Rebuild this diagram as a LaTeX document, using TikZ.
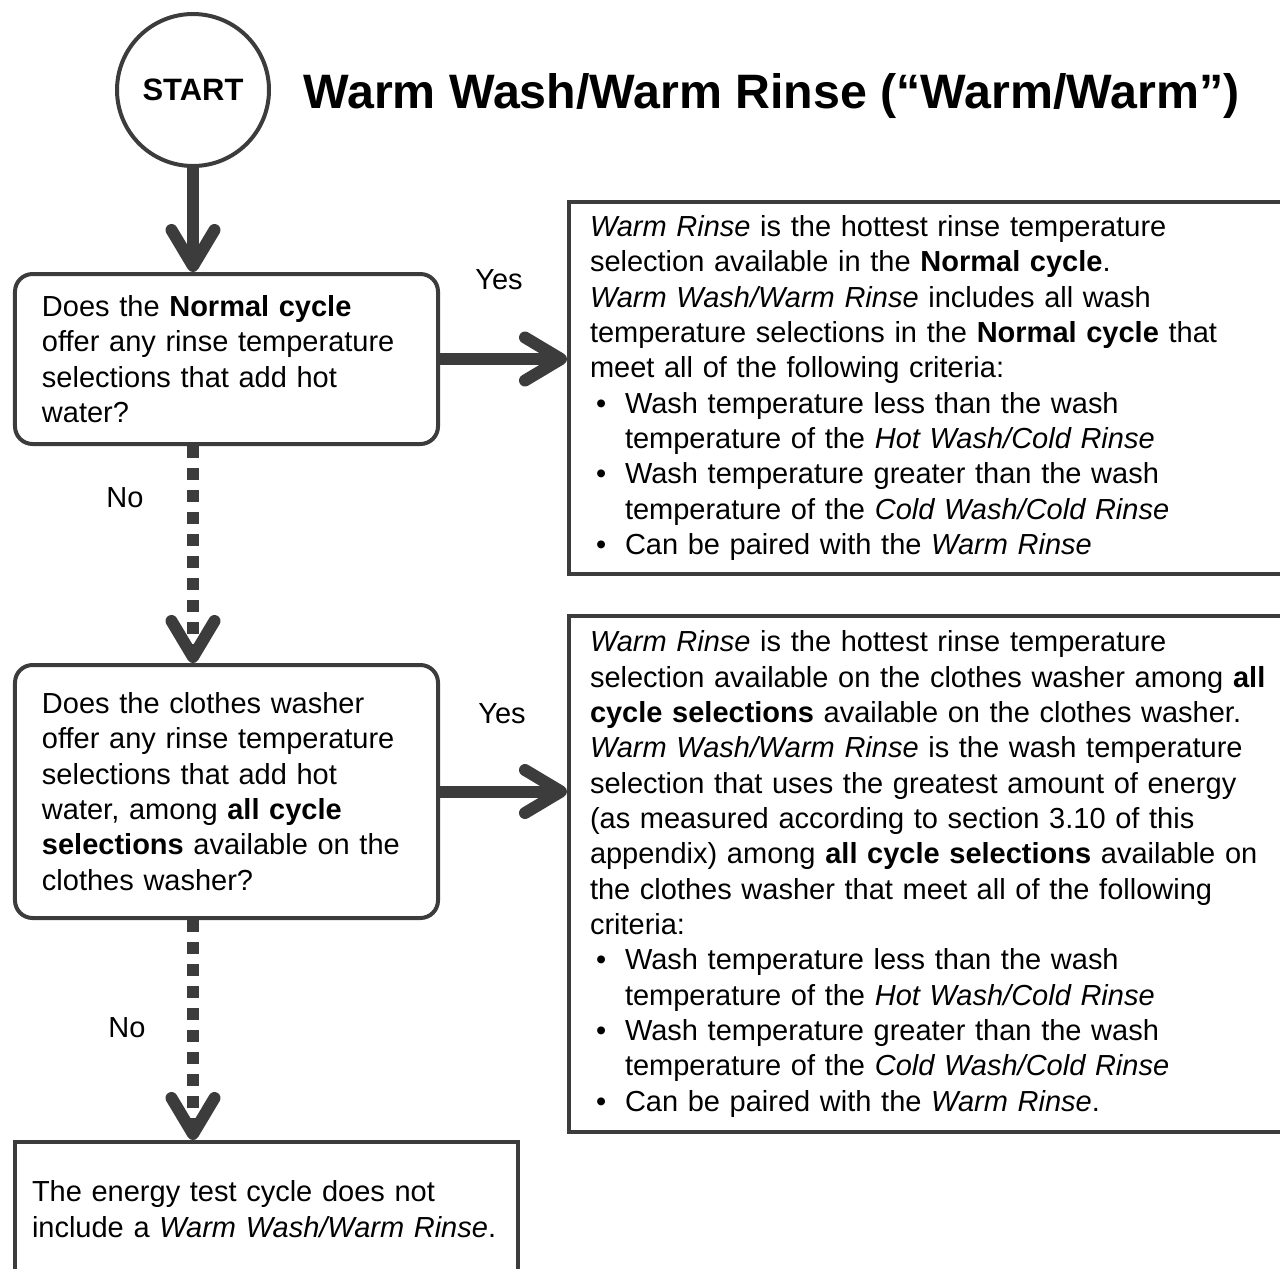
\documentclass[tikz,border=0pt]{standalone}
\usepackage{fontspec}
\setmainfont{Liberation Sans}
\usepackage{xcolor}
\usetikzlibrary{arrows.meta, positioning}
\definecolor{ink}{HTML}{3C3C3C}
\newcommand{\bulitem}{\makebox[0.7cm][l]{\hspace{0.12cm}\textbullet}}
\newcommand{\bulind}{\hspace*{0.7cm}}
\tikzset{
    box/.style={rectangle, draw=ink, line width=0.08cm, align=left,
                font=\fontsize{16.5}{20.1}\selectfont, inner ysep=0pt},
    qbox/.style={box, rounded corners=10pt, minimum width=8.46cm,
                 inner xsep=0.54cm, text width=7.38cm},
    abox/.style={box, minimum width=14.8cm, inner xsep=0.42cm, text width=13.96cm},
    lbl/.style={font=\fontsize{16.5}{20}\selectfont, text=black},
    arr/.style={-{Straight Barb[length=0.72cm, width=0.86cm, round]}, line width=0.24cm, color=ink},
    noarr/.style={arr, dash pattern=on 0.24cm off 0.2cm},
}

\begin{document}
\begin{tikzpicture}
  \useasboundingbox (0,0) rectangle (25.6,-25.36);

  \node[circle, draw=ink, line width=0.08cm, minimum size=3.04cm, inner sep=0pt,
        font=\bfseries\fontsize{17.6}{20}\selectfont] (start) at (3.86,-1.8) {START};
  \node[right=0.64cm of start.east, anchor=base west, yshift=-0.36cm, inner sep=0pt,
        font=\bfseries\fontsize{27.5}{32}\selectfont] (title) {Warm Wash/Warm Rinse (``Warm/Warm'')};

  % Questions
  \node[qbox, minimum height=3.4cm, below=2.08cm of start, xshift=0.67cm] (q1)
        {Does the \textbf{Normal cycle}\\
         offer any rinse temperature\\
         selections that add hot\\
         water?};

  \node[qbox, minimum height=5.06cm, below=4.34cm of q1] (q2)
        {Does the clothes washer\\
         offer any rinse temperature\\
         selections that add hot\\
         water, among \textbf{all cycle}\\
         \textbf{selections} available on the\\
         clothes washer?};

  % Answers
  \node[abox, minimum height=7.44cm, right=2.54cm of q1, yshift=-0.58cm] (a1)
        {\textit{Warm Rinse} is the hottest rinse temperature\\
         selection available in the \textbf{Normal cycle}.\\
         \textit{Warm Wash/Warm Rinse} includes all wash\\
         temperature selections in the \textbf{Normal cycle} that\\
         meet all of the following criteria:\\
         \bulitem Wash temperature less than the wash\\
         \bulind temperature of the \textit{Hot Wash/Cold Rinse}\\
         \bulitem Wash temperature greater than the wash\\
         \bulind temperature of the \textit{Cold Wash/Cold Rinse}\\
         \bulitem Can be paired with the \textit{Warm Rinse}};

  \node[abox, minimum height=10.32cm, right=2.54cm of q2, yshift=-1.65cm] (a2)
        {\textit{Warm Rinse} is the hottest rinse temperature\\
         selection available on the clothes washer among \textbf{all}\\
         \textbf{cycle selections} available on the clothes washer.\\
         \textit{Warm Wash/Warm Rinse} is the wash temperature\\
         selection that uses the greatest amount of energy\\
         (as measured according to section 3.10 of this\\
         appendix) among \textbf{all cycle selections} available on\\
         the clothes washer that meet all of the following\\
         criteria:\\
         \bulitem Wash temperature less than the wash\\
         \bulind temperature of the \textit{Hot Wash/Cold Rinse}\\
         \bulitem Wash temperature greater than the wash\\
         \bulind temperature of the \textit{Cold Wash/Cold Rinse}\\
         \bulitem Can be paired with the \textit{Warm Rinse}.};

  \node[box, minimum width=10.06cm, minimum height=2.68cm, inner xsep=0.34cm, text width=9.38cm,
        below=4.4cm of q2.south west, anchor=north west] (e1)
        {The energy test cycle does not\\
         include a \textit{Warm Wash/Warm Rinse}.};

  \draw[arr] (start.south) -- (start.south |- q1.north);
  \draw[arr] (q1.east) -- node[lbl, xshift=-0.09cm, yshift=1.58cm]{Yes} (q1.east -| a1.west);
  \draw[noarr] (q1.south -| start.south) -- node[lbl, xshift=-1.36cm, yshift=1.13cm]{No} (q2.north -| start.south);
  \draw[arr] (q2.east) -- node[lbl, xshift=-0.03cm, yshift=1.56cm]{Yes} (q2.east -| a2.west);
  \draw[noarr] (q2.south -| start.south) -- node[lbl, xshift=-1.32cm, yshift=0.04cm]{No} (e1.north -| start.south);

\end{tikzpicture}
\end{document}
